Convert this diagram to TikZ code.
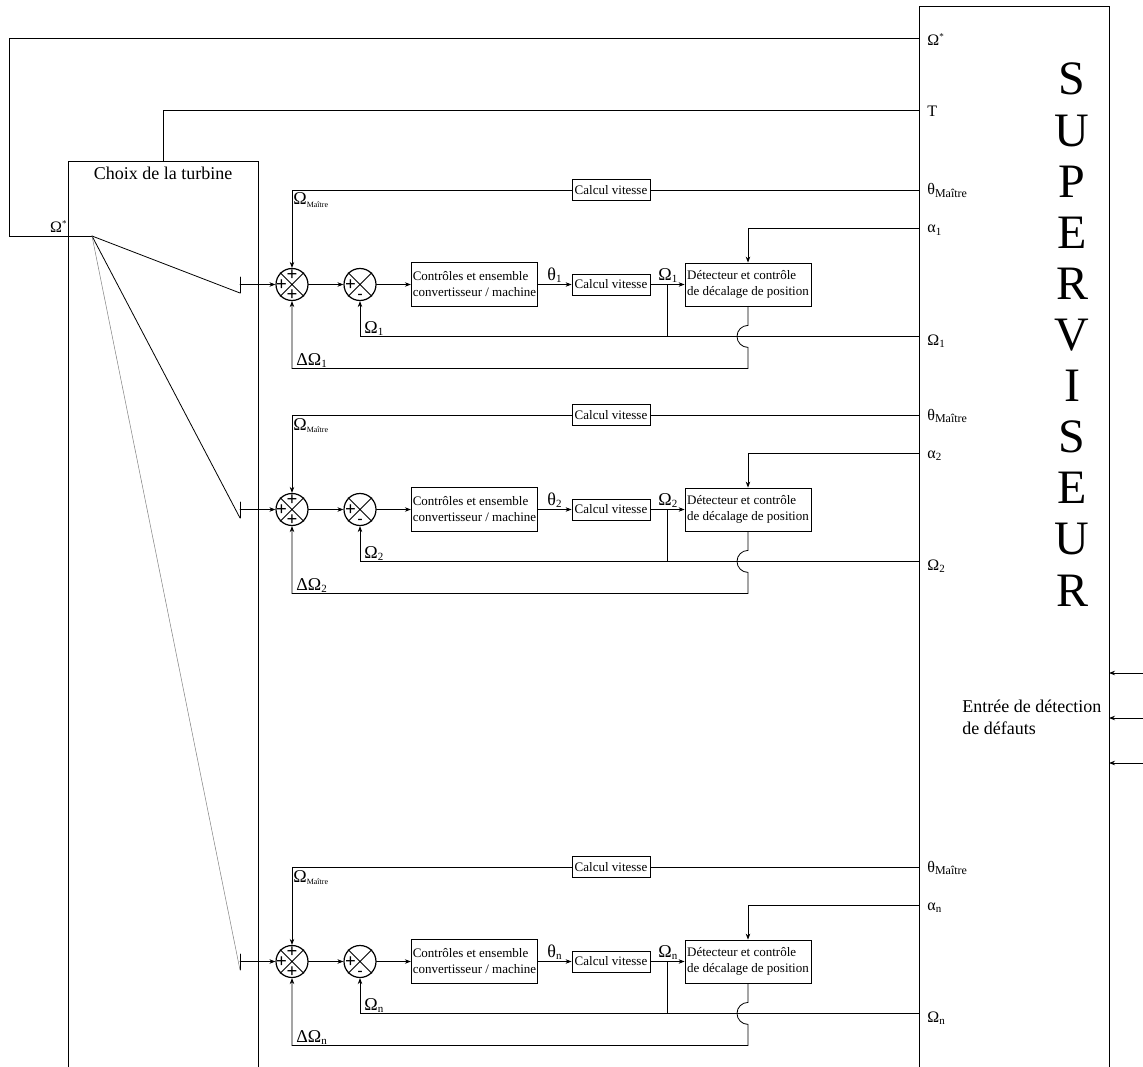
\documentclass[tikz,border=0pt]{standalone}
\usepackage{fontspec}
\setmainfont{Liberation Serif}
\usetikzlibrary{arrows.meta}

\newcommand{\lowtxt}[2]{\raisebox{-0.35ex}{\fontsize{#1}{#1}\selectfont #2}}

\begin{document}
\begin{tikzpicture}[x=1pt,y=-1pt,>={Stealth[length=6pt,width=4.5pt]},line width=0.8pt,line cap=round,
  blk/.style={draw,inner xsep=1.5pt,inner ysep=0pt,align=left,font=\fontsize{13}{16}\selectfont},
  sumnode/.style={draw,circle,line width=1.2pt,minimum size=32pt,inner sep=0pt},
  sig/.style={inner sep=0pt,anchor=base west,font=\fontsize{18}{18}\selectfont},
  suplbl/.style={inner sep=0pt,anchor=base west,font=\fontsize{16}{16}\selectfont},
  sgn/.style={inner sep=0pt,font=\fontsize{19}{19}\selectfont\bfseries}]
\useasboundingbox (0,0) rectangle (1143,1067);

% superviseur
\draw (919,1067) -- (919,6) -- (1109,6) -- (1109,1067);
\coordinate (supR) at (1109,0);
\foreach \ltr [count=\i] in {S,U,P,E,R,V,I,S,E,U,R}
  \node[inner sep=0pt,anchor=base,font=\fontsize{48}{48}\selectfont] (sv\i) at (1072,95+51.1*\i-51.1) {\ltr};
\coordinate (pOm) at (919,38);
\coordinate (pT) at (919,110);
\node[suplbl] (lOm) at (927,46) {Ω\raisebox{0.9ex}{\fontsize{9}{9}\selectfont *}};
\node[suplbl] (lT) at (927,117) {T};
\node[anchor=west,align=left,inner sep=0pt,font=\fontsize{18}{22}\selectfont] (fault) at (962,717) {Entrée de détection\\de défauts};
\foreach \fy [count=\i] in {673,718,763}{
  \coordinate (fi\i) at (1143,\fy);
  \draw[->] (fi\i) -- (fi\i -| supR);
}

% choix de la turbine
\draw (68,1067) -- (68,161) -- (258,161) -- (258,1067);
\node[anchor=base,inner sep=0pt,font=\fontsize{18}{18}\selectfont] (choix) at (163,180) {Choix de la turbine};
\coordinate (choixT) at (163,161);
\coordinate (fan) at (92,236);
\node[inner sep=0pt,anchor=base east,font=\fontsize{16}{16}\selectfont] (lstar) at (67,233) {Ω\raisebox{0.9ex}{\fontsize{9}{9}\selectfont *}};
\draw (pOm) -- (9,38) |- (fan);
\draw (pT) -| (choixT);

% une ligne par turbine
\foreach \dy/\k in {0/1,225/2,677/n}{
  \node[sumnode] (sa\k) at (292,284.5+\dy) {};
  \node[sumnode] (sb\k) at (360,284.5+\dy) {};
  \draw (sa\k.north west) -- (sa\k.south east) (sa\k.north east) -- (sa\k.south west);
  \draw (sb\k.north west) -- (sb\k.south east) (sb\k.north east) -- (sb\k.south west);
  \node[sgn] (pa\k) at (292,275.5+\dy) {+};
  \node[sgn] (pb\k) at (281.5,285+\dy) {+};
  \node[sgn] (pc\k) at (292,295+\dy) {+};
  \node[sgn] (pd\k) at (350.5,285+\dy) {+};
  \node[sgn,font=\fontsize{15}{15}\selectfont\bfseries] (pe\k) at (360,296+\dy) {-};
  \node[blk,minimum width=125pt,minimum height=44pt] (ctl\k) at (474.5,284.5+\dy) {Contrôles et ensemble\\convertisseur / machine};
  \node[blk,minimum width=78pt,minimum height=21pt] (cv\k) at (611,284.5+\dy) {Calcul vitesse};
  \node[blk,minimum width=126pt,minimum height=43pt] (det\k) at (748,284.5+\dy) {Détecteur et contrôle\\de décalage de position};
  \node[blk,minimum width=78pt,minimum height=21pt] (cvm\k) at (611,190+\dy) {Calcul vitesse};
  \coordinate (pth\k) at (919,190+\dy);
  \coordinate (pal\k) at (919,228+\dy);
  \coordinate (pom\k) at (919,336+\dy);
  \coordinate (tee\k) at (240,284.5+\dy);
  \coordinate (bar\k) at (240,293+\dy);
  \coordinate (br\k) at (667,284.5+\dy);
  % liaisons
  \draw (bar\k) -- ++(0,-16);
  \draw[->] (tee\k) -- (sa\k);
  \draw[->] (sa\k) -- (sb\k);
  \draw[->] (sb\k) -- (ctl\k);
  \draw[->] (ctl\k) -- (cv\k);
  \draw[->] (cv\k) -- (det\k);
  \draw (pth\k) -- (cvm\k);
  \draw[->] (cvm\k) -| (sa\k.north);
  \draw[->] (pal\k) -| (det\k.north);
  \draw[->] (pom\k) -| (sb\k.south);
  \draw (br\k) -- (br\k |- pom\k);
  \draw[->] (det\k.south) -- ++(0,19) arc[start angle=90,end angle=270,radius=11pt] -- ++(0,21) -| (sa\k.south);
  % etiquettes
  \node[sig] (lm\k) at (293,205+\dy) {Ω\lowtxt{8}{Maître}};
  \node[sig] (lth\k) at (547,280+\dy) {θ\lowtxt{11}{\k}};
  \node[sig] (lo\k) at (658,280+\dy) {Ω\lowtxt{11}{\k}};
  \node[sig] (lf\k) at (364,333+\dy) {Ω\lowtxt{11}{\k}};
  \node[sig] (ld\k) at (296,365+\dy) {ΔΩ\lowtxt{11}{\k}};
  \node[suplbl] (sth\k) at (927,195+\dy) {θ\lowtxt{12}{Maître}};
  \node[suplbl] (sal\k) at (927,233+\dy) {α\lowtxt{11}{\k}};
  \node[suplbl] (som\k) at (927,345+\dy) {Ω\lowtxt{11}{\k}};
}
\draw (fan) -- (bar1);
\draw (fan) -- (bar2);
\draw[gray,line width=0.5pt] (fan) -- (barn);
\end{tikzpicture}
\end{document}
